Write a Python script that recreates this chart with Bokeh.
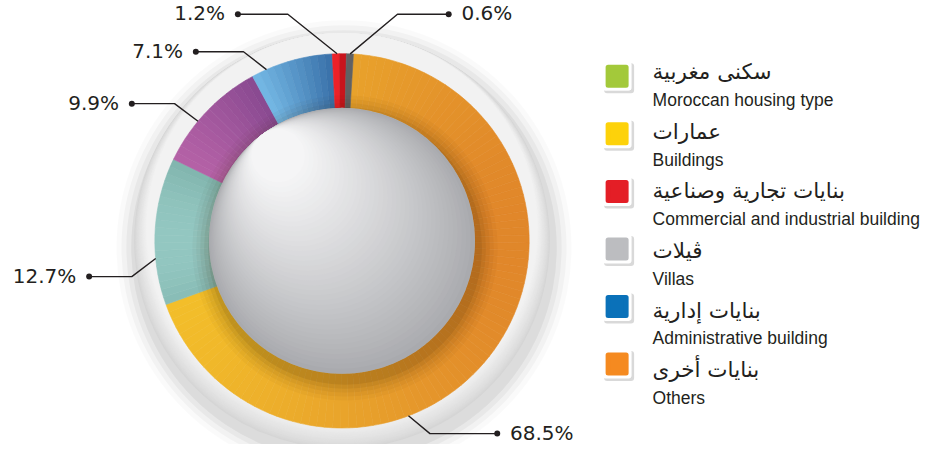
import numpy as np
from bokeh.plotting import figure
from bokeh.models import Range1d
from bokeh.core.properties import value
from bokeh.embed import file_html
from bokeh.resources import INLINE

# ---------------- data ----------------
slice_labels = ["68.5%", "12.7%", "9.9%", "7.1%", "1.2%", "0.6%"]
slice_values = [68.5, 12.7, 9.9, 7.1, 1.2, 0.6]

legend_ar = ["سكنى مغربية", "عمارات", "بنايات تجارية وصناعية", "ڤيلات", "بنايات إدارية", "بنايات أخرى"]
legend_en = ["Moroccan housing type", "Buildings", "Commercial and industrial building",
             "Villas", "Administrative building", "Others"]
legend_colors = ["#A3C93A", "#FDD20A", "#E41E26", "#BCBDC0", "#0A71B9", "#F58A20"]

# ---------------- styling / layout ----------------
W, H = 924, 444
S = 0.985
OX, OY = -5, 3
def px(x): return (x - OX) * S
def py(y): return H - (y - OY) * S

CX, CY = px(341.7), py(247)
R_OUT, R_IN, R_BG = 190 * S, 135 * S, 211 * S
START_CW = 3.5  # degrees clockwise from 12 o'clock where first slice starts

slice_grad = [None,
              ("#93C7C1", "#82B6AF"),
              ("#B461A6", "#8A4A91"),
              ("#72B6E3", "#3B73AB"),
              ("#EC2129", "#C8141C"),
              ("#8E8F91", "#333335")]

def hex2rgb(h):
    h = h.lstrip("#")
    return np.array([int(h[i:i+2], 16) for i in (0, 2, 4)], float)

def rgb2hex(c):
    c = np.clip(np.round(c), 0, 255).astype(int)
    return "#%02x%02x%02x" % tuple(c)

def mix(a, b, t):
    return rgb2hex(hex2rgb(a) * (1 - t) + hex2rgb(b) * t)

def orange_color(x):
    u = (x - (CX - R_OUT)) / (2 * R_OUT)
    u = min(max(u, 0), 1)
    if u < 0.5:
        return mix("#F5C42A", "#E9A42B", u / 0.5)
    return mix("#E9A42B", "#DF822A", (u - 0.5) / 0.5)

def cw2std(cw):
    return np.radians(90 - cw)

p = figure(width=W, height=H, x_range=Range1d(0, W), y_range=Range1d(0, H),
           output_backend="svg", toolbar_location=None, min_border=0)
p.axis.visible = False
p.grid.visible = False
p.outline_line_color = None
p.background_fill_color = "white"
p.border_fill_color = "white"

# outer soft shadow
for d, a in [(20, 0.02), (15, 0.03), (10, 0.04), (5, 0.05)]:
    p.circle(x=[CX + 2], y=[CY - 7], radius=R_BG + d * S, fill_color="black",
             fill_alpha=a, line_color=None)

# light outer ring with smooth shading (darker bottom)
N_BG = 24
for k in range(N_BG):
    t = k / (N_BG - 1)
    step = 0.55 * k * S
    p.circle(x=[CX], y=[CY + step], radius=R_BG - step,
             fill_color=mix("#D5D5D5", "#F2F2F2", t ** 0.8), line_color=None)

# ---------------- donut slices ----------------
total = sum(slice_values)
cum = START_CW
starts, ends, cols = [], [], []
for i, v in enumerate(slice_values):
    a = cum
    b = cum + v / total * 360.0
    cum = b
    n = max(1, int(np.ceil((b - a) / 2.5)))
    edges = np.linspace(a, b, n + 1)
    mids = (edges[:-1] + edges[1:]) / 2
    xm = CX + (R_IN + R_OUT) / 2 * np.sin(np.radians(mids))
    for j in range(n):
        if slice_grad[i] is None:
            c = orange_color(xm[j])
        else:
            t = (xm[j] - xm.min()) / max(xm.max() - xm.min(), 1e-6) if n > 1 else 0.5
            c = mix(slice_grad[i][0], slice_grad[i][1], t)
        starts.append(cw2std(edges[j + 1]))
        ends.append(cw2std(edges[j]))
        cols.append(c)

p.annular_wedge(x=CX, y=CY, inner_radius=R_IN, outer_radius=R_OUT,
                start_angle=starts, end_angle=ends,
                fill_color=cols, line_color=cols, line_width=0.6)

# shadow of the inner disc on the ring
for d, a in [(20, 0.03), (16, 0.04), (12, 0.05), (8, 0.07), (4, 0.09)]:
    p.circle(x=[CX + 3], y=[CY - 7], radius=R_IN + d * S, fill_color="#3a2400",
             fill_alpha=a, line_color=None)

# inner grey disc with diagonal shading
N_IN = 40
dirx, diry = -0.6, 0.8
for k in range(N_IN):
    t = k / (N_IN - 1)
    r = R_IN * (1 - 0.8 * t)
    off = (R_IN - r)
    p.circle(x=[CX + dirx * off], y=[CY + diry * off], radius=r,
             fill_color=mix("#A9AAAE", "#F5F5F6", t ** 0.9), line_color=None)

# ---------------- leader lines & labels ----------------
lead_angle = [159.2, 264.6, 309.7, 336.2, 358.5, 2.5]
lead_elbow = [(431, 442.7), (128.3, 283.3), (171.7, 107.7), (241.7, 55), (286.7, 17), (398, 17)]
lead_dot = [(499.3, 442.7), (85, 283.3), (128.3, 107.7), (193.3, 55), (236, 17), (450, 17)]
label_side = ["left", "right", "right", "right", "right", "left"]
LINE_C = "#231F20"

xs, ys = [], []
for i in range(len(slice_labels)):
    th = np.radians(lead_angle[i])
    sx, sy = CX + R_OUT * np.sin(th), CY + R_OUT * np.cos(th)
    ex, ey = px(lead_elbow[i][0]), py(lead_elbow[i][1])
    dx, dy = px(lead_dot[i][0]), py(lead_dot[i][1])
    xs.append([sx, ex, dx])
    ys.append([sy, ey, dy])
p.multi_line(xs=xs, ys=ys, line_color=LINE_C, line_width=1.4)
p.scatter(x=[px(d[0]) for d in lead_dot], y=[py(d[1]) for d in lead_dot],
          size=6, marker="circle", fill_color=LINE_C, line_color=None)

GAP = 13 * S
for side in ("left", "right"):
    idx = [i for i in range(len(slice_labels)) if label_side[i] == side]
    tx = [px(lead_dot[i][0]) + (GAP if side == "left" else -GAP) for i in idx]
    ty = [py(lead_dot[i][1]) + 1 for i in idx]
    p.text(x=tx, y=ty, text=[slice_labels[i] for i in idx],
           text_font=value("DejaVu Sans"), text_font_size=value("20px"),
           text_color=LINE_C, text_align=side, text_baseline="middle")

# ---------------- legend ----------------
SQ_X = px(621)
sq_y = [py(80 + 58.4 * i) for i in range(len(legend_en))]
en_y = [py(104 + 60.5 * i) for i in range(len(legend_en))]
ar_y = [py(75 + 60.6 * i) for i in range(len(legend_en))]
TXT_X = px(657)

p.rect(x=[SQ_X + 2] * 6, y=[y - 2 for y in sq_y], width=24, height=24,
       fill_color="black", fill_alpha=0.15, line_color="black", line_alpha=0.15,
       line_width=6, line_join="round")
p.rect(x=[SQ_X] * 6, y=sq_y, width=23, height=23, fill_color="white",
       line_color="white", line_width=6, line_join="round")
p.rect(x=[SQ_X] * 6, y=sq_y, width=18, height=18, fill_color=legend_colors,
       line_color=legend_colors, line_width=5, line_join="round")

p.text(x=[TXT_X] * 6, y=ar_y, text=legend_ar,
       text_font=value("DejaVu Sans"), text_font_size=value("21.5px"),
       text_color=LINE_C, text_align="left", text_baseline="alphabetic")
p.text(x=[TXT_X] * 6, y=en_y, text=legend_en,
       text_font=value("Liberation Sans"),
       text_font_size=value("17.5px"),
       text_color=LINE_C, text_align="left", text_baseline="alphabetic")

open("out.html", "w").write(file_html(p, INLINE))
